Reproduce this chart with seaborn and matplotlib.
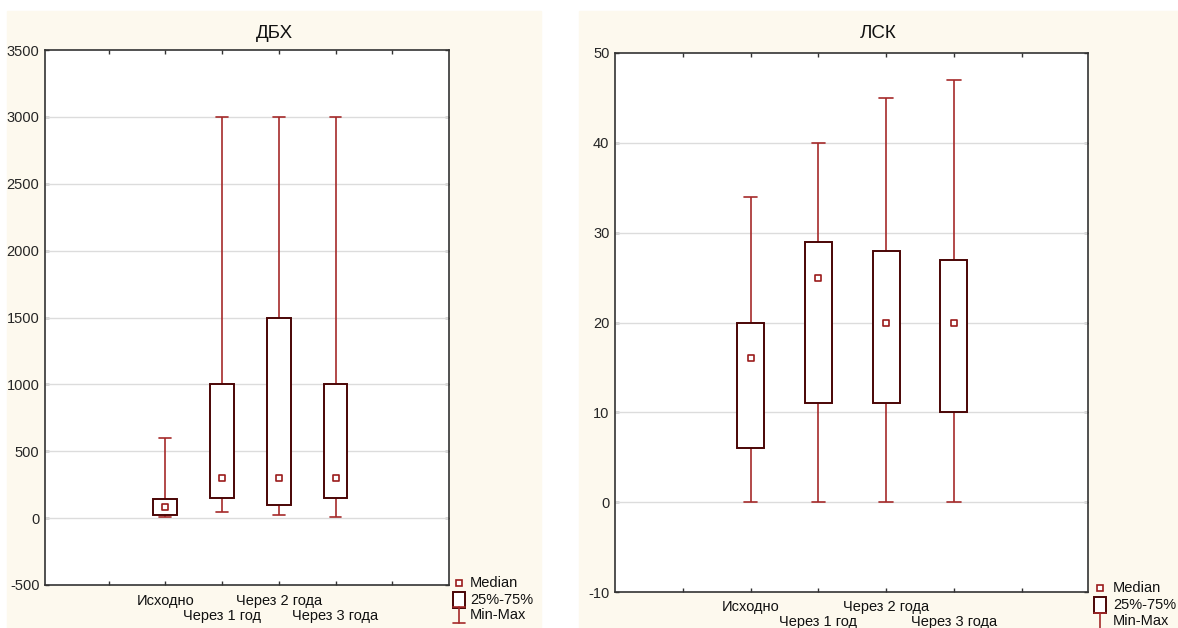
import pandas as pd
import seaborn as sns
import matplotlib.pyplot as plt
import matplotlib as mpl
from matplotlib.patches import Rectangle
from matplotlib.lines import Line2D

sns.set_theme(style="white")
mpl.rcParams.update({
    'font.family': ['Liberation Sans', 'DejaVu Sans'],
    'font.size': 10,
    'xtick.direction': 'in',
    'ytick.direction': 'in',
})

# data (Min, 25%, Median, 75%, Max per period)
categories = ['Исходно', 'Через 1 год', 'Через 2 года', 'Через 3 года']

dbh_min = [5, 45, 25, 5]
dbh_q1 = [25, 150, 100, 150]
dbh_med = [80, 300, 300, 300]
dbh_q3 = [145, 1000, 1500, 1000]
dbh_max = [600, 3000, 3000, 3000]

lsk_min = [0, 0, 0, 0]
lsk_q1 = [6, 11, 11, 10]
lsk_med = [16, 25, 20, 20]
lsk_q3 = [20, 29, 28, 27]
lsk_max = [34, 40, 45, 47]

legend_labels = ['Median', '25%-75%', 'Min-Max']

cream = '#FDF9EE'
whisker_color = '#A52A2A'
box_color = '#4A0505'
median_color = '#9B1B1B'
grid_color = '#DCDCDC'

W, H = 1178, 628


def long_frame(mins, q1s, meds, q3s, maxs):
    # five points per group: linear percentiles give exactly these stats
    rows = []
    for cat, a, b, c, d, e in zip(categories, mins, q1s, meds, q3s, maxs):
        for v in (a, b, c, d, e):
            rows.append({'period': cat, 'value': v})
    return pd.DataFrame(rows)


def fx(px):
    return px / W


def fy(py):
    return 1 - py / H


fig = plt.figure(figsize=(W / 100, H / 100), dpi=100)
fig.patch.set_facecolor('white')

# cream panel backgrounds
fig.add_artist(Rectangle((fx(7), 0), 534 / W, 617 / H,
                         transform=fig.transFigure, color=cream, zorder=0))
fig.add_artist(Rectangle((fx(579), 0), 599 / W, 617 / H,
                         transform=fig.transFigure, color=cream, zorder=0))


def draw_legend(gx, tx, rows_y):
    tf = fig.transFigure
    # median square
    fig.add_artist(Line2D([fx(gx)], [fy(rows_y[0])], transform=tf, marker='s',
                          markersize=5, markerfacecolor='white',
                          markeredgecolor=median_color, markeredgewidth=1.2))
    # box
    fig.add_artist(Rectangle((fx(gx - 6), fy(rows_y[1] + 8)), 12 / W, 16 / H,
                             transform=tf, facecolor='white',
                             edgecolor=box_color, linewidth=1.4))
    # whisker glyph
    y0, y1 = rows_y[2] - 8, rows_y[2] + 8
    fig.add_artist(Line2D([fx(gx), fx(gx)], [fy(y0), fy(y1)], transform=tf,
                          color=whisker_color, linewidth=1.2))
    for yy in (y0, y1):
        fig.add_artist(Line2D([fx(gx - 6), fx(gx + 6)], [fy(yy), fy(yy)],
                              transform=tf, color=whisker_color, linewidth=1.2))
    for lab, yy in zip(legend_labels, rows_y):
        fig.text(fx(tx), fy(yy), lab, ha='left', va='center',
                 fontsize=10.5, color='#111111')


def draw_panel(rect, df, meds, ylim, yticks, width, xlim, title, title_x,
               label_y1, label_y2):
    ax = fig.add_axes(rect)
    ax.set_facecolor('white')
    sns.boxplot(
        data=df, x='period', y='value', order=categories, ax=ax,
        whis=(0, 100), width=width, color='white', linecolor=box_color,
        linewidth=1.4, fliersize=0,
        boxprops={'edgecolor': box_color, 'linewidth': 1.4, 'zorder': 3},
        whiskerprops={'color': whisker_color, 'linewidth': 1.2, 'zorder': 2},
        capprops={'color': whisker_color, 'linewidth': 1.2, 'zorder': 2},
        medianprops={'visible': False},
    )
    med_df = pd.DataFrame({'period': categories, 'median': meds})
    sns.stripplot(data=med_df, x='period', y='median', order=categories, ax=ax,
                  jitter=False, marker='s', size=5, color='white',
                  edgecolor=median_color, linewidth=1.2, zorder=4)

    ax.set_xlim(*xlim)
    ax.set_ylim(*ylim)
    ax.set_yticks(yticks)
    ax.set_yticklabels([str(t) for t in yticks], fontsize=10.5)
    ax.set_xticks(range(-1, 5))
    ax.set_xticklabels([])
    ax.set_xlabel('')
    ax.set_ylabel('')
    for y in yticks[1:-1]:
        ax.axhline(y, color=grid_color, linewidth=1, zorder=1)
    ax.tick_params(axis='both', which='both', top=True, right=True,
                   left=True, bottom=True, length=3, width=1,
                   color='#333333', pad=4)
    for s in ax.spines.values():
        s.set_color('#333333')
        s.set_linewidth(1.2)

    # staggered category labels
    for i, cat in enumerate(categories):
        y = label_y1 if i % 2 == 0 else label_y2
        fig.text(0, fy(y), cat, transform=mpl.transforms.blended_transform_factory(
                 ax.transData, fig.transFigure),
                 ha='center', va='center', fontsize=10.5, color='#111111')
        fig.texts[-1].set_x(i)

    fig.text(title_x, fy(33), title, ha='center', va='center',
             fontsize=13.5, color='#111111')
    return ax


dbh_df = long_frame(dbh_min, dbh_q1, dbh_med, dbh_q3, dbh_max)
lsk_df = long_frame(lsk_min, lsk_q1, lsk_med, lsk_q3, lsk_max)

draw_panel([fx(45), 43 / H, 404 / W, 535 / H], dbh_df, dbh_med,
           (-500, 3500), list(range(-500, 3501, 500)), 0.42, (-2.12, 5.0),
           'ДБХ', fx(274), 601, 616)
draw_legend(459, 470, [583, 600, 615])

draw_panel([fx(615), 36 / H, 473 / W, 539 / H], lsk_df, lsk_med,
           (-10, 50), list(range(-10, 51, 10)), 0.4, (-2.0, 4.98),
           'ЛСК', fx(878), 607, 622)
draw_legend(1100, 1113, [588, 605, 621])

fig.savefig('out.png', dpi=100, facecolor='white')
